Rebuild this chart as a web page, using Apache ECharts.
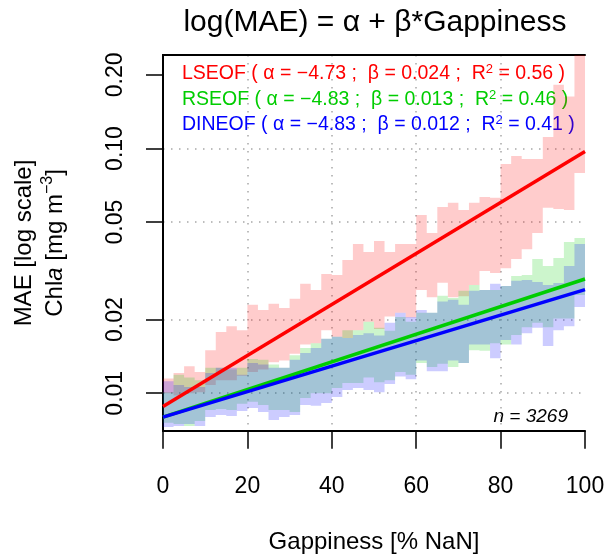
<!DOCTYPE html>
<html>
<head>
<meta charset="utf-8">
<script src="https://cdn.jsdelivr.net/npm/echarts@6/dist/echarts.min.js"></script>
<style>
html, body { margin: 0; padding: 0; background: #fff; }
#chart { width: 609px; height: 559px; }
</style>
</head>
<body>
<div id="chart"></div>
<script>
// left edge of each 2.5 % gappiness bin
const gapStart = [0, 2.5, 5, 7.5, 10, 12.5, 15, 17.5, 20, 22.5, 25, 27.5, 30, 32.5, 35, 37.5, 40, 42.5, 45, 47.5,
  50, 52.5, 55, 57.5, 60, 62.5, 65, 67.5, 70, 72.5, 75, 77.5, 80, 82.5, 85, 87.5, 90, 92.5, 95, 97.5]
const gapEnd = 100

// MAE range per bin (lower / upper)
const lseofLow = [0.0100, 0.0098, 0.0100, 0.0101, 0.0108, 0.0113, 0.0113, 0.0118, 0.0122, 0.0125, 0.0134, 0.0136, 0.0145, 0.0158, 0.0160, 0.0181, 0.0170, 0.0168, 0.0181, 0.0196,
  0.0183, 0.0206, 0.0213, 0.0204, 0.0264, 0.0247, 0.0283, 0.0247, 0.0249, 0.0277, 0.0316, 0.0310, 0.0324, 0.0354, 0.0388, 0.0452, 0.0572, 0.0566, 0.0561, 0.0795]
const lseofHigh = [0.0115, 0.0121, 0.0129, 0.0122, 0.0150, 0.0178, 0.0188, 0.0181, 0.0230, 0.0219, 0.0232, 0.0223, 0.0243, 0.0280, 0.0264, 0.0307, 0.0304, 0.0350, 0.0407, 0.0378,
  0.0419, 0.0378, 0.0407, 0.0407, 0.0535, 0.0452, 0.0577, 0.0600, 0.0561, 0.0600, 0.0634, 0.0629, 0.0864, 0.0932, 0.0906, 0.0906, 0.1115, 0.182, 0.163, 0.28]
const rseofLow = [0.00757, 0.00749, 0.00735, 0.00771, 0.00855, 0.00863, 0.00855, 0.00905, 0.00922, 0.00896, 0.00855, 0.00855, 0.00839, 0.00957, 0.0100, 0.0100, 0.0105, 0.0110, 0.0110, 0.0116,
  0.0111, 0.0113, 0.0122, 0.0119, 0.0133, 0.0128, 0.0132, 0.0128, 0.0133, 0.0150, 0.0149, 0.0160, 0.0158, 0.0173, 0.0186, 0.0194, 0.0186, 0.0202, 0.0202, 0.0252]
const rseofHigh = [0.0101, 0.0119, 0.0116, 0.0113, 0.0127, 0.0127, 0.0125, 0.0127, 0.0138, 0.0137, 0.0131, 0.0127, 0.0143, 0.0153, 0.0160, 0.0167, 0.0170, 0.0181, 0.0181, 0.0196,
  0.0185, 0.0180, 0.0205, 0.0196, 0.0213, 0.0213, 0.0250, 0.0245, 0.0262, 0.0277, 0.0264, 0.0264, 0.0274, 0.0301, 0.0304, 0.0354, 0.0331, 0.0357, 0.0415, 0.0431]
const dineofLow = [0.00728, 0.00735, 0.00749, 0.00735, 0.00800, 0.00815, 0.00807, 0.00847, 0.00871, 0.00839, 0.00778, 0.00800, 0.00815, 0.00896, 0.00888, 0.00913, 0.00966, 0.0103, 0.0105, 0.0103,
  0.0101, 0.0109, 0.0117, 0.0114, 0.0136, 0.0123, 0.0123, 0.0136, 0.0133, 0.0158, 0.0158, 0.0139, 0.0165, 0.0158, 0.0176, 0.0185, 0.0156, 0.0181, 0.0188, 0.0225]
const dineofHigh = [0.0112, 0.0108, 0.0106, 0.0106, 0.0121, 0.0127, 0.0127, 0.0119, 0.0133, 0.0131, 0.0127, 0.0127, 0.0137, 0.0146, 0.0153, 0.0167, 0.0170, 0.0168, 0.0173, 0.0176,
  0.0172, 0.0194, 0.0213, 0.0205, 0.0219, 0.0213, 0.0237, 0.0241, 0.0230, 0.0262, 0.0264, 0.0280, 0.0274, 0.0288, 0.0290, 0.0285, 0.0277, 0.0282, 0.0331, 0.0407]

// fitted lines, ends at 0 and 100 % gappiness
const fitGap = [0, 100]
const lseofFit = [0.00883, 0.0973]
const rseofFit = [0.00799, 0.0293]
const dineofFit = [0.00799, 0.0265]

const methods = ['LSEOF', 'RSEOF', 'DINEOF']
const alphas = ['\u22124.73', '\u22124.83', '\u22124.83']
const betas = ['0.024', '0.013', '0.012']
const r2s = ['0.56', '0.46', '0.41']
const colors = ['#FF0000', '#00CD00', '#0000FF']
const fills = ['rgba(255,0,0,0.2)', 'rgba(0,205,0,0.2)', 'rgba(0,0,255,0.2)']

const yTicks = [0.01, 0.02, 0.05, 0.10, 0.20]
const yTickLabels = ['0.01', '0.02', '0.05', '0.10', '0.20']
const yGrid = [0.01, 0.02, 0.05, 0.10]
const xGrid = [20, 40, 60, 80]
const yMin = 0.00703
const yMax = 0.2410

const font = 'Liberation Sans'

// one stepped polygon per method: upper edge left->right, lower edge back
function bandSeries(low, high, fill) {
  return {
    type: 'custom', silent: true, animation: false, clip: true,
    data: [[gapStart[0], Math.log10(low[0])]],
    renderItem(params, api) {
      const pts = []
      gapStart.forEach((g, i) => {
        const g1 = i + 1 < gapStart.length ? gapStart[i + 1] : gapEnd
        pts.push(api.coord([g, Math.log10(high[i])]), api.coord([g1, Math.log10(high[i])]))
      })
      for (let i = gapStart.length - 1; i >= 0; i--) {
        const g1 = i + 1 < gapStart.length ? gapStart[i + 1] : gapEnd
        pts.push(api.coord([g1, Math.log10(low[i])]), api.coord([gapStart[i], Math.log10(low[i])]))
      }
      return { type: 'polygon', shape: { points: pts }, style: { fill: fill } }
    }
  }
}

function fitSeries(fit, color) {
  return { type: 'line', symbol: 'none', silent: true, animation: false,
    data: fitGap.map((g, i) => [g, Math.log10(fit[i])]),
    lineStyle: { color: color, width: 3.5 } }
}

const series = [
  bandSeries(lseofLow, lseofHigh, fills[0]),
  bandSeries(rseofLow, rseofHigh, fills[1]),
  bandSeries(dineofLow, dineofHigh, fills[2]),
  fitSeries(lseofFit, colors[0]),
  fitSeries(rseofFit, colors[1]),
  fitSeries(dineofFit, colors[2])
]

const dotted = { color: '#A8A8A8', width: 1.5, type: [1.5, 6.5] }
const black = { color: '#000', width: 2 }

const legendText = methods.map((m, i) => ({
  type: 'text', left: 182, top: 63 + i * 25.5,
  style: {
    text: m + ' ( \u03b1 = ' + alphas[i] + ' ;  \u03b2 = ' + betas[i] + ' ;  R{s|2} = ' + r2s[i] + ' )',
    fill: colors[i], fontFamily: font, fontSize: 19.5, lineHeight: 22,
    rich: { s: { fontFamily: font, fontSize: 13, verticalAlign: 'top', lineHeight: 13, fill: colors[i] } }
  }
}))

const option = {
  animation: false,
  backgroundColor: '#fff',
  grid: { left: 163, right: 24, top: 55, bottom: 128.3 },
  xAxis: [
    {
      type: 'value', min: 0, max: 100, interval: 20, position: 'bottom',
      axisLine: { lineStyle: black },
      axisTick: { length: 18, lineStyle: { color: '#000', width: 1.5 } },
      axisLabel: { color: '#000', fontFamily: font, fontSize: 23, margin: 44 },
      splitLine: { show: false }
    },
    {
      type: 'value', min: 0, max: 100, position: 'top',
      axisLine: { lineStyle: black },
      axisTick: { show: false, customValues: xGrid },
      axisLabel: { show: false },
      splitLine: { show: true, lineStyle: dotted }
    }
  ],
  yAxis: [
    {
      type: 'value', min: Math.log10(yMin), max: Math.log10(yMax), position: 'left',
      axisLine: { lineStyle: black },
      axisTick: { length: 17, customValues: yTicks.map(Math.log10), lineStyle: { color: '#000', width: 1.5 } },
      axisLabel: {
        customValues: yTicks.map(Math.log10), rotate: 90, color: '#000', fontFamily: font, fontSize: 23, margin: 36,
        formatter: v => {
          const i = yTicks.findIndex(t => Math.abs(Math.log10(t) - v) < 1e-6)
          return i >= 0 ? yTickLabels[i] : ''
        }
      },
      splitLine: { show: false }
    },
    {
      type: 'value', min: Math.log10(yMin), max: Math.log10(yMax), position: 'right',
      axisLine: { lineStyle: black },
      axisTick: { show: false, customValues: yGrid.map(Math.log10) },
      axisLabel: { show: false },
      splitLine: { show: true, lineStyle: dotted }
    }
  ],
  graphic: [
    {
      type: 'text', x: 375, y: 23,
      style: { text: 'log(MAE) = \u03b1 + \u03b2*Gappiness', fill: '#000', fontFamily: font, fontSize: 30,
        align: 'center', verticalAlign: 'middle', textAlign: 'center', textVerticalAlign: 'middle' }
    },
    {
      type: 'text', x: 374, y: 542,
      style: { text: 'Gappiness [% NaN]', fill: '#000', fontFamily: font, fontSize: 24,
        align: 'center', verticalAlign: 'middle', textAlign: 'center', textVerticalAlign: 'middle' }
    },
    {
      type: 'text', x: 40, y: 243, rotation: Math.PI / 2,
      style: {
        text: 'MAE [log scale]\nChl{i|a} [mg m{s|\u22123}]', fill: '#000', fontFamily: font, fontSize: 24, lineHeight: 31,
        align: 'center', verticalAlign: 'middle', textAlign: 'center', textVerticalAlign: 'middle',
        rich: {
          i: { fontFamily: font, fontSize: 24, fontStyle: 'italic', lineHeight: 31 },
          s: { fontFamily: font, fontSize: 16, verticalAlign: 'top', lineHeight: 16 }
        }
      }
    },
    {
      type: 'text', x: 568, y: 417,
      style: { text: 'n = 3269', fill: '#000', fontFamily: font, fontSize: 19, fontStyle: 'italic',
        align: 'right', verticalAlign: 'middle', textAlign: 'right', textVerticalAlign: 'middle' }
    },
    ...legendText
  ],
  series: series
}

const chart = echarts.init(document.getElementById('chart'), null, { renderer: 'canvas' })
chart.setOption(option)
</script>
</body>
</html>
